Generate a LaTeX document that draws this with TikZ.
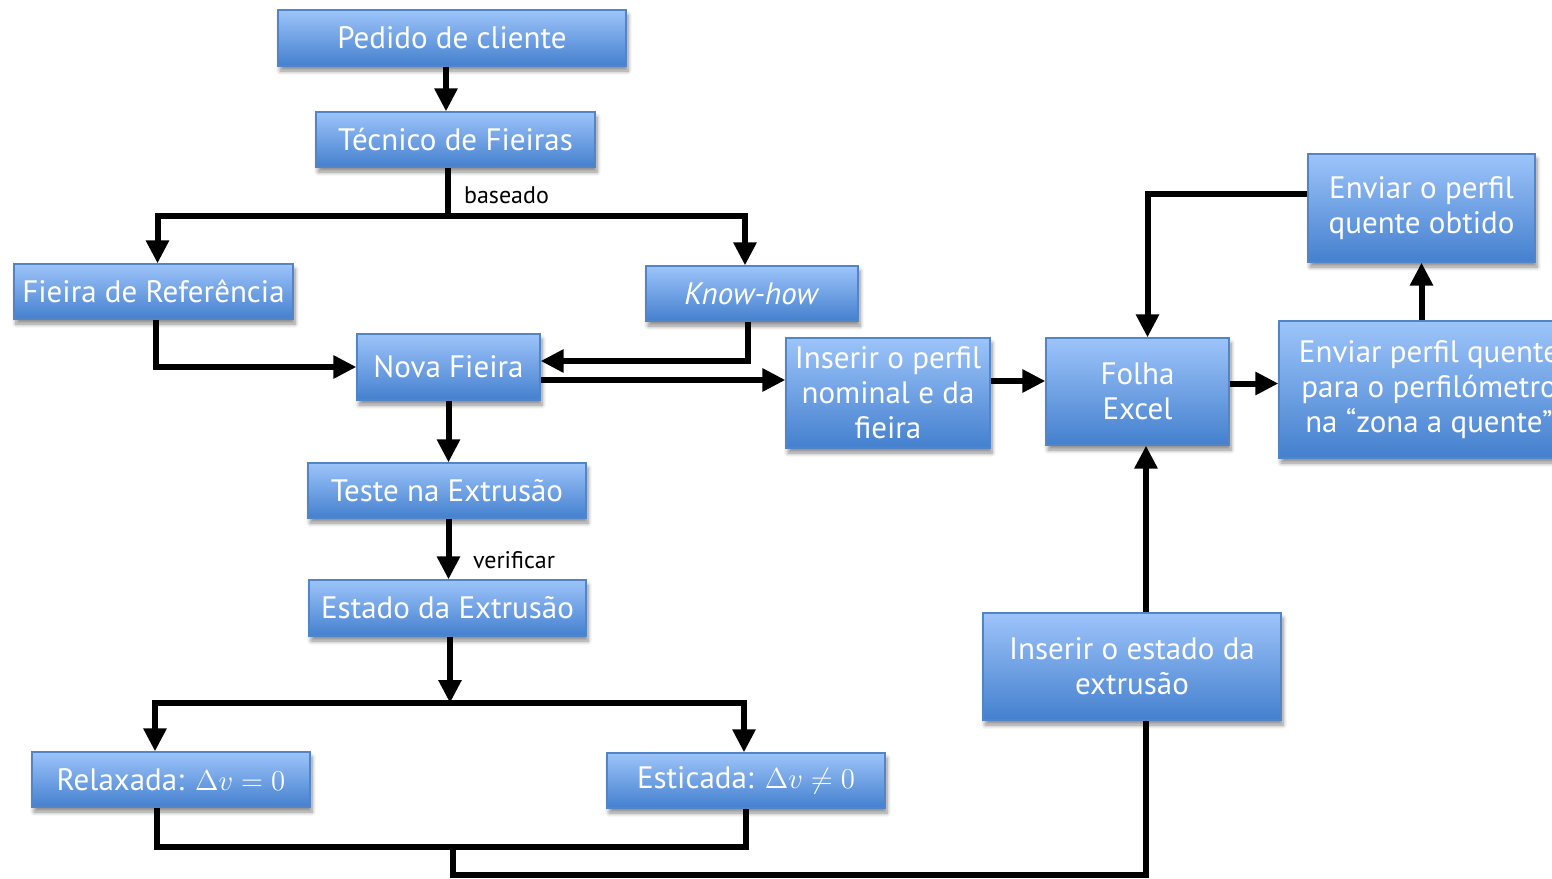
\documentclass[tikz,border=0pt]{standalone}
\usepackage{fontspec}
\setmainfont{PT Sans}
\usepackage{amsmath,amssymb}
\usetikzlibrary{arrows.meta,shadows.blur}
\definecolor{boxTop}{RGB}{157,196,250}
\definecolor{boxBottom}{RGB}{68,128,206}
\definecolor{boxBorder}{RGB}{82,132,200}
\begin{document}
\begin{tikzpicture}
[x=0.5pt,y=-0.5pt,
box/.style={rectangle,draw=boxBorder,line width=0.6pt,top color=boxTop,bottom color=boxBottom,
  text=white,font=\fontsize{15.5}{17.5}\selectfont,align=center,inner sep=2pt,
  blur shadow={shadow xshift=1pt,shadow yshift=-2.5pt,shadow blur steps=6,shadow blur radius=2pt,shadow opacity=45}},
line/.style={line width=3pt,line join=miter},
link/.style={line,-{Triangle[length=11.5pt,width=11pt]}},
note/.style={font=\fontsize{12}{14}\selectfont,text=black}]
\useasboundingbox (0,0) rectangle (1552,878);
\node[box,minimum width=174pt,minimum height=28pt] (pedido) at (452,38) {Pedido de cliente};
\node[box,minimum width=139.5pt,minimum height=27.5pt] (tecnico) at (455.5,139.5) {Técnico de Fieiras};
\node[box,minimum width=139.5pt,minimum height=27.5pt] (fieiraRef) at (153.5,291.5) {Fieira de Referência};
\node[box,minimum width=106pt,minimum height=27.5pt] (knowhow) at (752,293.5) {\textit{Know-how}};
\node[box,minimum width=91.5pt,minimum height=33pt] (nova) at (448.5,367) {Nova Fieira};
\node[box,minimum width=102pt,minimum height=55pt] (inserirPerfil) at (888,393) {Inserir o perfil\\nominal e da\\fieira};
\node[box,minimum width=91.5pt,minimum height=53.5pt] (folha) at (1137.5,391.5) {Folha\\Excel};
\node[box,minimum width=150pt,minimum height=68.5pt] (enviarPerfil) at (1429,389.5) {Enviar perfil quente\\para o perfilómetro\\na “zona a quente”};
\node[box,minimum width=113.5pt,minimum height=54pt] (enviarObtido) at (1421.5,208) {Enviar o perfil\\quente obtido};
\node[box,minimum width=139pt,minimum height=27.5pt] (teste) at (447,490.5) {Teste na Extrusão};
\node[box,minimum width=138.5pt,minimum height=28pt] (estado) at (447.5,608) {Estado da Extrusão};
\node[box,minimum width=139pt,minimum height=27.5pt] (relaxada) at (171,779.5) {Relaxada: $\Delta v = 0$};
\node[box,minimum width=139pt,minimum height=27.5pt] (esticada) at (746,780.5) {Esticada: $\Delta v \neq 0$};
\node[box,minimum width=149pt,minimum height=53.5pt] (inserirEstado) at (1132,666.5) {Inserir o estado da\\extrusão};
\coordinate (jb) at (448,216);
\coordinate (js) at (450,703);
\coordinate (jm) at (453,847);
\coordinate (jl) at (453,875);
\draw[link] ([xshift=-3pt]pedido.south) -- ([xshift=-3pt]pedido.south |- tecnico.north);
\draw[line] (tecnico.south -| jb) -- (jb);
\draw[link] (jb) -| ([xshift=2pt]fieiraRef.north);
\draw[link] (jb) -| ([xshift=-3.5pt]knowhow.north);
\node[note,anchor=south west] (baseado) at (457,211) {baseado};
\draw[link] ([xshift=1pt]fieiraRef.south) |- (nova.west);
\draw[link] ([xshift=-2pt]knowhow.south) |- ([yshift=3pt]nova.east);
\draw[link] ([yshift=-6.5pt]nova.east) -- ([yshift=-6.5pt]nova.east -| inserirPerfil.west);
\draw[link] ([yshift=6pt]inserirPerfil.east) -- ([yshift=6pt]inserirPerfil.east -| folha.west);
\draw[link] ([yshift=4pt]folha.east) -- ([yshift=4pt]folha.east -| enviarPerfil.west);
\draw[link] (enviarPerfil.north -| enviarObtido.south) -- (enviarObtido.south);
\draw[link] ([yshift=7pt]enviarObtido.west) -| ([xshift=5pt]folha.north);
\draw[link] (nova.south) -- (nova.south |- teste.north);
\draw[link] (teste.south -| nova.south) -- (estado.north -| nova.south);
\node[note,anchor=south west] (verificar) at (466,576) {verificar};
\draw[link] (estado.south -| js) -- (js);
\draw[line] ([xshift=-8pt]relaxada.north |- js) -- (esticada.north |- js);
\draw[link] (js) -| ([xshift=-8pt]relaxada.north);
\draw[link] (js) -| ([xshift=-1pt]esticada.north);
\draw[line] ([xshift=-7pt]relaxada.south) |- (esticada.south |- jm) -- (esticada.south);
\draw[line] (jm) -- (jl) -| ([xshift=7pt]inserirEstado.south);
\draw[link] ([xshift=7pt]inserirEstado.north) -- ([xshift=7pt]inserirEstado.north |- folha.south);
\end{tikzpicture}
\end{document}
